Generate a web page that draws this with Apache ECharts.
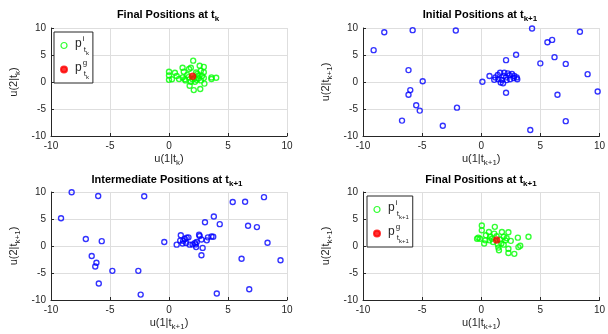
<!DOCTYPE html>
<html><head><meta charset="utf-8">
<script src="https://cdn.jsdelivr.net/npm/echarts@6/dist/echarts.min.js"></script>
<style>html,body{margin:0;padding:0;background:#fff}#c{width:608px;height:334px}</style>
</head><body><div id="c"></div>
<script>
// ---- data ----
const tickValues = [-10, -5, 0, 5, 10];

const finalTkSwarm = [[0.0,1.9],[0.0,0.4],[0.0,1.2],[0.5,1.7],[0.25,0.5],[0.85,0.55],[1.15,2.65],[1.25,1.9],[1.15,0.85],[1.4,0.3],[1.7,2.4],[1.85,0.05],[2.05,3.95],[1.85,2.65],[2.1,-1.5],[1.75,-0.7],[2.65,-1.3],[2.6,3.0],[2.95,2.8],[2.95,1.8],[2.7,2.1],[2.4,1.5],[2.95,0.75],[3.0,-0.3],[2.7,0.3],[2.5,0.7],[2.15,0.7],[2.2,0.05],[1.55,1.3],[1.35,0.5],[3.6,0.85],[3.6,0.55],[4.0,0.8],[1.65,0.9],[2.3,1.75],[2.5,1.2],[2.8,1.1],[0.65,1.1],[2.0,0.5],[2.35,0.4]];
const finalTkBest = [[2.0,1.05]];

const initialTk1 = [[-9.1,5.9],[-8.2,9.2],[-5.8,9.6],[-2.15,9.55],[4.3,9.9],[8.35,9.3],[5.6,7.35],[6.0,7.8],[2.95,5.05],[2.1,4.05],[5.0,3.45],[6.2,4.6],[7.15,3.35],[9.0,1.45],[9.85,-1.75],[6.45,-2.35],[7.15,-7.25],[4.15,-8.9],[2.1,-2.0],[0.1,0.05],[0.7,1.1],[-4.95,0.15],[-6.15,2.2],[-6.0,-1.5],[-6.15,-2.35],[-5.5,-4.3],[-5.2,-5.3],[-6.7,-7.15],[-3.25,-8.1],[-2.05,-4.75],[1.2,0.85],[1.1,0.4],[1.4,1.3],[1.6,1.7],[1.75,0.4],[1.85,-0.25],[1.95,1.7],[2.1,0.85],[2.25,1.6],[2.4,1.25],[2.6,1.5],[2.8,1.1],[3.0,0.85],[3.05,0.5],[1.9,1.1],[1.45,0.5],[1.65,-0.1],[2.15,0.35],[2.45,0.5],[2.75,0.75]];

const intermediateTk1 = [[-8.25,9.95],[-6.0,9.25],[-2.1,9.2],[-9.15,5.15],[-7.05,1.3],[-5.7,0.9],[-6.55,-1.85],[-6.15,-3.1],[-6.25,-3.8],[-5.95,-6.95],[-4.8,-4.6],[-2.6,-4.6],[-2.4,-9.0],[-0.4,0.75],[5.4,8.15],[6.45,8.2],[8.05,9.05],[3.8,5.45],[3.05,4.4],[4.3,4.05],[6.7,3.75],[7.45,3.5],[8.35,0.6],[6.15,-2.35],[9.45,-2.65],[6.8,-8.0],[4.05,-8.8],[2.75,-1.7],[2.85,-0.35],[0.65,0.25],[1.0,2.0],[0.95,1.0],[1.15,0.45],[1.35,1.3],[1.5,1.55],[1.65,1.6],[1.45,0.55],[1.75,0.25],[2.0,0.3],[2.25,0.3],[2.3,-0.2],[2.35,0.75],[2.55,2.1],[2.6,1.85],[2.75,1.2],[3.2,1.05],[3.3,1.6],[3.6,1.75],[3.75,1.7],[2.2,0.55],[1.2,0.95]];

const finalTk1Swarm = [[-0.35,1.35],[-0.25,1.55],[0.05,3.8],[0.05,2.9],[0.25,0.45],[0.4,2.0],[0.65,2.6],[0.7,1.05],[0.75,1.7],[1.15,3.55],[1.1,2.3],[1.0,0.75],[1.4,0.3],[1.45,-0.3],[1.5,-0.8],[1.75,2.6],[1.9,1.7],[2.05,1.05],[2.3,2.55],[2.3,-0.5],[2.3,-1.3],[2.5,0.95],[2.8,-1.45],[3.1,1.55],[3.15,-0.2],[3.3,0.05],[4.0,1.7],[-0.1,1.35],[0.35,1.05],[1.6,1.2],[2.15,1.45],[1.7,0.45],[0.9,1.35],[1.3,1.8],[1.9,0.25]];
const finalTk1Best = [[1.3,1.1]];

// ---- styling ----
const FONT = 'Liberation Sans, Arial, sans-serif';
const TXT = '#262626';
const grids = [
  {left: 51, top: 28, width: 236, height: 108},
  {left: 363, top: 28, width: 237, height: 108},
  {left: 51, top: 192, width: 236, height: 108},
  {left: 363, top: 192, width: 237, height: 108}
];
const titles = [
  {x: 168, y: 9, main: 'Final Positions at t', sub: 'k'},
  {x: 480, y: 9, main: 'Initial Positions at t', sub: 'k+1'},
  {x: 167, y: 174, main: 'Intermediate Positions at t', sub: 'k+1'},
  {x: 481, y: 174, main: 'Final Positions at t', sub: 'k+1'}
];
const subs = ['k', 'k+1', 'k+1', 'k+1'];

const titleRich = {
  b: {fontSize: 11, fontWeight: 'bold', color: '#000', fontFamily: FONT, verticalAlign: 'top', padding: [0, 0, 0, 0]},
  s: {fontSize: 8, fontWeight: 'bold', color: '#000', fontFamily: FONT, verticalAlign: 'top', padding: [6, 0, 0, 0]}
};
const nameRich = {
  n: {fontSize: 11, color: TXT, fontFamily: FONT, verticalAlign: 'top', padding: [0, 0, 0, 0]},
  s: {fontSize: 8, color: TXT, fontFamily: FONT, verticalAlign: 'top', padding: [6, 0, 0, 0]}
};
const legendRich = {
  p: {fontSize: 12, color: TXT, fontFamily: FONT, verticalAlign: 'top', padding: [3, 1, 0, 0]},
  u: {fontSize: 8, color: TXT, fontFamily: FONT, verticalAlign: 'top', padding: [0, 0, 0, 0], width: 1},
  t: {fontSize: 8, color: TXT, fontFamily: FONT, verticalAlign: 'top', padding: [11, 0, 0, 0]},
  k: {fontSize: 6, color: TXT, fontFamily: FONT, verticalAlign: 'top', padding: [15, 0, 0, 0]}
};
const legendLabels = {
  'pi_k': '{p|p}{u|i}{t|t}{k|k}',
  'pg_k': '{p|p}{u|g}{t|t}{k|k}',
  'pi_k1': '{p|p}{u|i}{t|t}{k|k+1}',
  'pg_k1': '{p|p}{u|g}{t|t}{k|k+1}'
};

const xAxes = [], yAxes = [];
grids.forEach((g, i) => {
  const common = {
    gridIndex: i, type: 'value', min: tickValues[0], max: tickValues[tickValues.length - 1], interval: 5,
    axisLine: {show: true, onZero: false, lineStyle: {color: TXT, width: 1}},
    axisTick: {show: true, inside: true, length: 3, lineStyle: {color: TXT}},
    axisLabel: {fontSize: 10, color: TXT, fontFamily: FONT, margin: 5},
    splitLine: {show: true, lineStyle: {color: '#dedede', width: 1}},
    nameLocation: 'middle', nameTextStyle: {rich: nameRich}
  };
  xAxes.push(Object.assign({}, common, {name: '{n|u(1|t}{s|' + subs[i] + '}{n|)}', nameGap: 17}));
  yAxes.push(Object.assign({}, common, {name: '{n|u(2|t}{s|' + subs[i] + '}{n|)}', nameGap: 29}));
});

const hollow = (name, data, idx, color) => ({
  name, type: 'scatter', xAxisIndex: idx, yAxisIndex: idx, data, symbol: 'circle', symbolSize: 5,
  itemStyle: {color: 'rgba(255,255,255,0)', borderColor: color, borderWidth: 1.4}, z: 2, silent: true
});
const filled = (name, data, idx) => ({
  name, type: 'scatter', xAxisIndex: idx, yAxisIndex: idx, data, symbol: 'circle', symbolSize: 7,
  itemStyle: {color: '#ff0000', borderColor: '#ff0000', borderWidth: 0.5}, z: 3, silent: true
});

const legendBase = {
  orient: 'vertical', backgroundColor: '#fff', borderColor: TXT, borderWidth: 1,
  padding: [3, 4, 3, 6], itemWidth: 12, itemHeight: 6, itemGap: 3,
  selectedMode: false, formatter: n => legendLabels[n], textStyle: {rich: legendRich}
};
const legendItems = (a, b) => [
  {name: a, itemStyle: {borderWidth: 1.2}},
  {name: b}
];

const option = {
  animation: false,
  backgroundColor: '#fff',
  title: titles.map(t => ({
    text: '{b|' + t.main + '}{s|' + t.sub + '}', left: t.x, top: t.y, textAlign: 'center', padding: 0,
    textStyle: {rich: titleRich}
  })),
  grid: grids,
  xAxis: xAxes,
  yAxis: yAxes,
  legend: [
    Object.assign({}, legendBase, {left: 54, top: 32, data: legendItems('pi_k', 'pg_k')}),
    Object.assign({}, legendBase, {left: 367, top: 196, data: legendItems('pi_k1', 'pg_k1')})
  ],
  series: [
    hollow('pi_k', finalTkSwarm, 0, '#00ff00'),
    filled('pg_k', finalTkBest, 0),
    hollow('initial', initialTk1, 1, '#0000ff'),
    hollow('intermediate', intermediateTk1, 2, '#0000ff'),
    hollow('pi_k1', finalTk1Swarm, 3, '#00ff00'),
    filled('pg_k1', finalTk1Best, 3)
  ]
};
echarts.init(document.getElementById('c'), null, {renderer: 'canvas'}).setOption(option);
</script></body></html>
